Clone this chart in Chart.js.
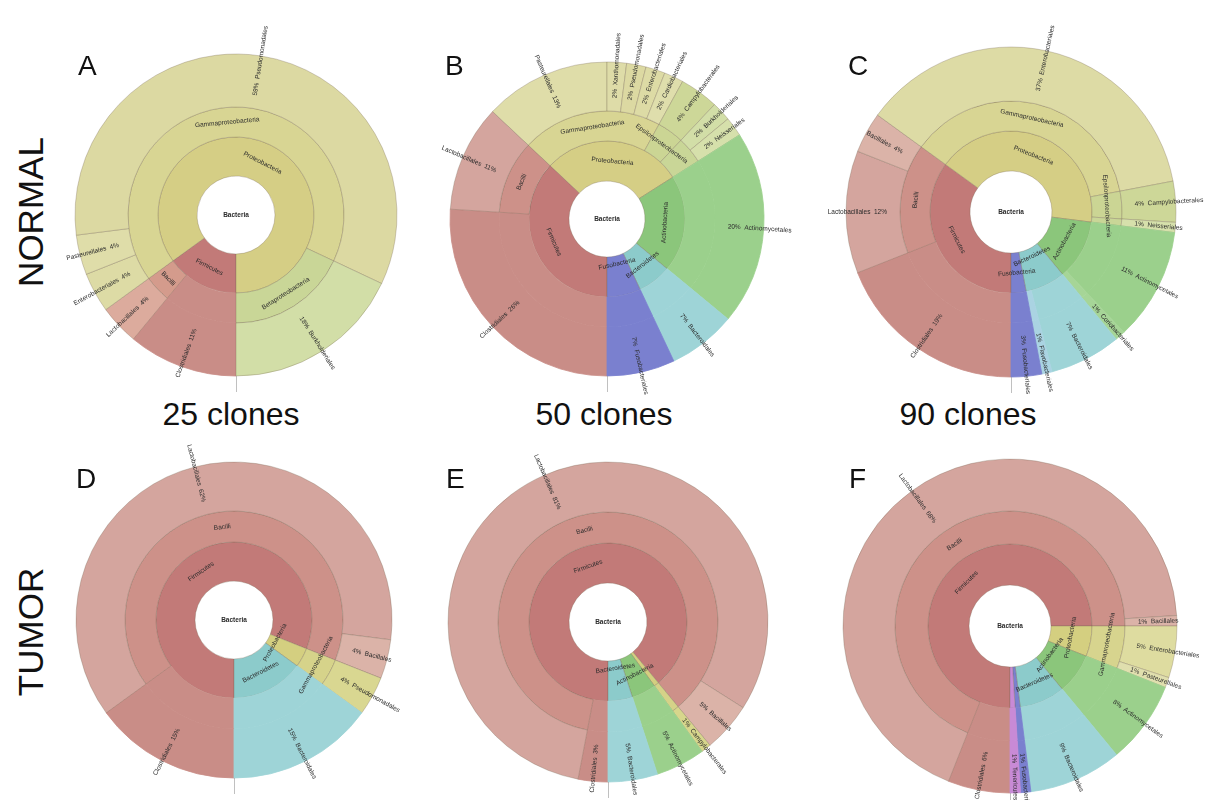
<!DOCTYPE html>
<html>
<head>
<meta charset="utf-8">
<title>Krona charts – normal vs tumor</title>
<script src="https://cdn.jsdelivr.net/npm/chart.js@4.4.0/dist/chart.umd.min.js"></script>
<style>
  html, body { margin: 0; padding: 0; background: #fff; }
  #stage { position: relative; width: 1209px; height: 800px; overflow: hidden;
           font-family: "Liberation Sans", Arial, Helvetica, sans-serif; color: #111; }
  #stage canvas { position: absolute; }
  .letter { position: absolute; font-size: 28px; line-height: 1; }
  .row { position: absolute; font-size: 35px; line-height: 1; white-space: nowrap;
         transform: translate(-50%, -50%) rotate(-90deg); }
  .clones { position: absolute; font-size: 32px; line-height: 1; white-space: nowrap;
            transform: translateX(-50%); }
</style>
</head>
<body>
<div id="stage">
  <div class="row" style="left:30px;top:212px">NORMAL</div>
  <div class="row" style="left:30px;top:632px">TUMOR</div>
  <div class="clones" style="left:231px;top:398px">25 clones</div>
  <div class="clones" style="left:604px;top:398px">50 clones</div>
  <div class="clones" style="left:968px;top:398px">90 clones</div>
  <canvas id="krA" width="440" height="440"></canvas>
  <canvas id="krB" width="440" height="440"></canvas>
  <canvas id="krC" width="440" height="440"></canvas>
  <canvas id="krD" width="440" height="440"></canvas>
  <canvas id="krE" width="440" height="440"></canvas>
  <canvas id="krF" width="440" height="440"></canvas>
  <div class="letter" style="left:78px;top:52px">A</div>
  <div class="letter" style="left:445px;top:52px">B</div>
  <div class="letter" style="left:848px;top:52px">C</div>
  <div class="letter" style="left:76px;top:465px">D</div>
  <div class="letter" style="left:446px;top:465px">E</div>
  <div class="letter" style="left:849px;top:465px">F</div>
</div>
<script>
// ---- clone percentages per order, listed clockwise from 6 o'clock ----

// A: normal, 25 clones
const aOrder  = ['Clostridiales', 'Lactobacillales', 'Enterobacteriales', 'Pasteurellales', 'Pseudomonadales', 'Burkholderiales'];
const aPct    = [11, 4, 4, 4, 59, 18];
const aClass  = ['', 'Bacilli', 'Gammaproteobacteria', 'Gammaproteobacteria', 'Gammaproteobacteria', 'Betaproteobacteria'];
const aPhylum = ['Firmicutes', 'Firmicutes', 'Proteobacteria', 'Proteobacteria', 'Proteobacteria', 'Proteobacteria'];

// B: normal, 50 clones
const bOrder  = ['Clostridiales', 'Lactobacillales', 'Pasteurellales', 'Xanthomonadales', 'Pseudomonadales', 'Enterobacteriales',
                 'Cardiobacteriales', 'Campylobacterales', 'Burkholderiales', 'Neisseriales', 'Actinomycetales', 'Bacteroidales', 'Fusobacteriales'];
const bPct    = [26, 11, 13, 2, 2, 2, 2, 4, 2, 2, 20, 7, 7];
const bClass  = ['', 'Bacilli', 'Gammaproteobacteria', 'Gammaproteobacteria', 'Gammaproteobacteria', 'Gammaproteobacteria',
                 'Gammaproteobacteria', 'Epsilonproteobacteria', 'Betaproteobacteria', 'Betaproteobacteria', '', '', ''];
const bPhylum = ['Firmicutes', 'Firmicutes', 'Proteobacteria', 'Proteobacteria', 'Proteobacteria', 'Proteobacteria',
                 'Proteobacteria', 'Proteobacteria', 'Proteobacteria', 'Proteobacteria', 'Actinobacteria', 'Bacteroidetes', 'Fusobacteria'];

// C: normal, 90 clones
const cOrder  = ['Clostridiales', 'Lactobacillales', 'Bacillales', 'Enterobacteriales', 'Campylobacterales', 'Neisseriales',
                 'Actinomycetales', 'Coriobacteriales', 'Bacteroidales', 'Flavobacteriales', 'Fusobacteriales'];
const cPct    = [19, 12, 4, 37, 4, 1, 11, 1, 7, 1, 3];
const cClass  = ['', 'Bacilli', 'Bacilli', 'Gammaproteobacteria', 'Epsilonproteobacteria', 'Betaproteobacteria', '', '', '', '', ''];
const cPhylum = ['Firmicutes', 'Firmicutes', 'Firmicutes', 'Proteobacteria', 'Proteobacteria', 'Proteobacteria',
                 'Actinobacteria', 'Actinobacteria', 'Bacteroidetes', 'Bacteroidetes', 'Fusobacteria'];

// D: tumor, 25 clones
const dOrder  = ['Clostridiales', 'Lactobacillales', 'Bacillales', 'Pseudomonadales', 'Bacteroidales'];
const dPct    = [15, 62, 4, 4, 15];
const dClass  = ['', 'Bacilli', 'Bacilli', 'Gammaproteobacteria', ''];
const dPhylum = ['Firmicutes', 'Firmicutes', 'Firmicutes', 'Proteobacteria', 'Bacteroidetes'];

// E: tumor, 50 clones
const eOrder  = ['Clostridiales', 'Lactobacillales', 'Bacillales', 'Campylobacterales', 'Actinomycetales', 'Bacteroidales'];
const ePct    = [3, 81, 5, 1, 5, 5];
const eClass  = ['', 'Bacilli', 'Bacilli', 'Epsilonproteobacteria', '', ''];
const ePhylum = ['Firmicutes', 'Firmicutes', 'Firmicutes', 'Proteobacteria', 'Actinobacteria', 'Bacteroidetes'];

// F: tumor, 90 clones
const fOrder  = ['Clostridiales', 'Lactobacillales', 'Bacillales', 'Enterobacteriales', 'Pasteurellales',
                 'Actinomycetales', 'Bacteroidales', 'Fusobacteriales', 'Tenericutes'];
const fPct    = [6, 68, 1, 5, 1, 8, 9, 1, 1];
const fClass  = ['', 'Bacilli', 'Bacilli', 'Gammaproteobacteria', 'Gammaproteobacteria', '', '', '', ''];
const fPhylum = ['Firmicutes', 'Firmicutes', 'Firmicutes', 'Proteobacteria', 'Proteobacteria',
                 'Actinobacteria', 'Bacteroidetes', 'Fusobacteria', 'Tenericutes'];

// ---- colours per taxon ----
const palette = {
  Firmicutes: '#c27a78', Bacilli: '#cd9189', Lactobacillales: '#d4a59e', Bacillales: '#dbb3a8', Clostridiales: '#c98d87',
  Proteobacteria: '#d5ce85', Gammaproteobacteria: '#d8d593', Pseudomonadales: '#dcd9a2', Enterobacteriales: '#dddba5',
  Pasteurellales: '#dfdda9', Xanthomonadales: '#dedca8', Cardiobacteriales: '#dfdeac',
  Epsilonproteobacteria: '#cbd594', Campylobacterales: '#cdd798',
  Betaproteobacteria: '#c9d697', Burkholderiales: '#d2dea7', Neisseriales: '#d6e0ab',
  Actinobacteria: '#8bc67b', Actinomycetales: '#9bd08c', Coriobacteriales: '#a6d597',
  Bacteroidetes: '#8ccbcb', Bacteroidales: '#9ed4d7', Flavobacteriales: '#aad3e2',
  Fusobacteria: '#7a80cf', Fusobacteriales: '#7a80cf',
  Tenericutes: '#c88ad6'
};
const tintA = { Lactobacillales: '#dcab9d', Bacilli: '#d49b8c' };
const tintD = { Pseudomonadales: '#d9d791', Gammaproteobacteria: '#d6d38a', Proteobacteria: '#d4cf80' };
const tintE = { Campylobacterales: '#d7d68c', Epsilonproteobacteria: '#d5d288', Proteobacteria: '#d4cf80' };
const tintF = { Enterobacteriales: '#dedca0', Pasteurellales: '#e0dfae', Gammaproteobacteria: '#d7d48e', Proteobacteria: '#d4cf80' };

// ---- geometry of each sunburst (centre, hole, ring edges) ----
const geometry = {
  krA: { cx: 236, cy: 215, hole: 39, phylumEdge: 78, classEdge: 108, outer: 161 },
  krB: { cx: 607, cy: 219, hole: 38, phylumEdge: 78, classEdge: 108, outer: 157 },
  krC: { cx: 1011, cy: 212, hole: 41, phylumEdge: 81, classEdge: 111, outer: 165 },
  krD: { cx: 234, cy: 620, hole: 39, phylumEdge: 78, classEdge: 109, outer: 158 },
  krE: { cx: 608, cy: 622, hole: 39, phylumEdge: 79, classEdge: 110, outer: 160 },
  krF: { cx: 1010, cy: 626, hole: 41, phylumEdge: 82, classEdge: 115, outer: 167 }
};

const panels = [
  { id: 'krA', order: aOrder, pct: aPct, cls: aClass, phylum: aPhylum, tint: tintA },
  { id: 'krB', order: bOrder, pct: bPct, cls: bClass, phylum: bPhylum, tint: {} },
  { id: 'krC', order: cOrder, pct: cPct, cls: cClass, phylum: cPhylum, tint: {} },
  { id: 'krD', order: dOrder, pct: dPct, cls: dClass, phylum: dPhylum, tint: tintD },
  { id: 'krE', order: eOrder, pct: ePct, cls: eClass, phylum: ePhylum, tint: tintE },
  { id: 'krF', order: fOrder, pct: fPct, cls: fClass, phylum: fPhylum, tint: tintF }
];

const EDGE = 'rgba(115,100,80,0.38)';
const FONT = '"Liberation Sans", Arial, Helvetica, sans-serif';
const INK = '#2b2b2b';
const MIN_RANK_LABEL = 2;   // smallest phylum/class share (%) that gets a name

// Group consecutive leaves that share a parent taxon into one ring segment.
// Leaves without a class rank keep their own colour through the class ring.
function groupRing(keys, pct, order, colour) {
  const names = [], data = [], bg = [], border = [];
  keys.forEach((k, i) => {
    if (!k) {
      const c = colour(order[i]);
      names.push(''); data.push(pct[i]); bg.push(c); border.push(c);
    } else if (i > 0 && keys[i - 1] === k) {
      data[data.length - 1] += pct[i];
    } else {
      names.push(k); data.push(pct[i]); bg.push(colour(k)); border.push(EDGE);
    }
  });
  return { names, data, bg, border };
}

function norm(a) { // to [-pi/2, 3pi/2)
  const t = Math.PI * 2;
  return (((a + Math.PI / 2) % t) + t) % t - Math.PI / 2;
}

function samplePts(x, y, ang, w) {
  const pts = [], dx = Math.cos(ang), dy = Math.sin(ang);
  for (let s = -w / 2; s <= w / 2; s += 2.5) pts.push([x + dx * s, y + dy * s]);
  return pts;
}
function collides(pts, placed) {
  for (const p of pts) for (const q of placed)
    if (Math.abs(p[0] - q[0]) < 4.5 && Math.abs(p[1] - q[1]) < 4.5) return true;
  return false;
}

// Krona-style labels: root name, tangential rank names, radial leaf names with percentages.
const kronaLabels = {
  id: 'kronaLabels',
  afterDatasetsDraw(chart) {
    const ctx = chart.ctx;
    const props = ['x', 'y', 'startAngle', 'endAngle', 'innerRadius', 'outerRadius'];
    const leafArcs = chart.getDatasetMeta(0).data;
    const ref = leafArcs[0].getProps(props, true);
    const cx = ref.x, cy = ref.y;
    ctx.save();
    ctx.fillStyle = INK;
    ctx.textBaseline = 'middle';

    // root
    ctx.font = 'bold 6.5px ' + FONT;
    ctx.textAlign = 'center';
    ctx.fillText('Bacteria', cx, cy);

    // short guide line under the root start
    ctx.strokeStyle = 'rgba(150,150,150,0.6)';
    ctx.lineWidth = 1;
    ctx.beginPath();
    ctx.moveTo(cx + 0.5, cy + ref.outerRadius);
    ctx.lineTo(cx + 0.5, cy + ref.outerRadius + 16);
    ctx.stroke();

    // phylum and class rings
    ctx.font = '6.5px ' + FONT;
    const items = [];
    [2, 1].forEach(di => {
      const ds = chart.data.datasets[di];
      chart.getDatasetMeta(di).data.forEach((arc, j) => {
        if (ds.names[j] && ds.data[j] >= MIN_RANK_LABEL) items.push({ arc, name: ds.names[j], value: ds.data[j] });
      });
    });
    items.sort((p, q) => q.value - p.value);
    const placed = [];
    items.forEach(it => {
      const g = it.arc.getProps(props, true);
      const a = norm((g.startAngle + g.endAngle) / 2);
      const w = ctx.measureText(it.name).width;
      const band = g.outerRadius - g.innerRadius;
      const rm = (g.innerRadius + g.outerRadius) / 2;
      const rot = (a > 0 && a < Math.PI) ? a - Math.PI / 2 : a + Math.PI / 2;
      for (const r of [rm, rm - band * 0.3, rm + band * 0.3]) {
        const px = cx + r * Math.cos(a), py = cy + r * Math.sin(a);
        const pts = samplePts(px, py, rot, w);
        if (collides(pts, placed)) continue;
        ctx.save();
        ctx.translate(px, py);
        ctx.rotate(rot);
        ctx.textAlign = 'center';
        ctx.fillText(it.name, 0, 0);
        ctx.restore();
        placed.push(...pts);
        break;
      }
    });

    // leaf ring: radial labels
    const leaf = chart.data.datasets[0];
    leafArcs.forEach((arc, j) => {
      const g = arc.getProps(props, true);
      const a = norm((g.startAngle + g.endAngle) / 2);
      const r0 = chart.$ringStart + 13;
      ctx.save();
      ctx.translate(cx, cy);
      if (a < Math.PI / 2) {
        ctx.rotate(a);
        ctx.textAlign = 'left';
        ctx.fillText(leaf.data[j] + '%  ' + leaf.names[j], r0, 0);
      } else {
        ctx.rotate(a - Math.PI);
        ctx.textAlign = 'right';
        ctx.fillText(leaf.names[j] + '  ' + leaf.data[j] + '%', -r0, 0);
      }
      ctx.restore();
    });
    ctx.restore();
  }
};

panels.forEach(p => {
  const geo = geometry[p.id];
  const canvas = document.getElementById(p.id);
  canvas.style.left = (geo.cx - canvas.width / 2) + 'px';
  canvas.style.top = (geo.cy - canvas.height / 2) + 'px';
  const colour = n => p.tint[n] || palette[n];

  const leafBg = p.order.map(colour);
  const leafBorder = p.cls.map((c, i) => c ? EDGE : leafBg[i]);
  const classRing = groupRing(p.cls, p.pct, p.order, colour);
  const phylumRing = groupRing(p.phylum, p.pct, p.order, colour);

  new Chart(canvas, {
    type: 'doughnut',
    data: {
      datasets: [
        { names: p.order, data: p.pct, backgroundColor: leafBg, borderColor: leafBorder,
          borderWidth: 0.8, weight: geo.outer - geo.classEdge },
        { names: classRing.names, data: classRing.data, backgroundColor: classRing.bg,
          borderColor: classRing.border, borderWidth: 0.8, weight: geo.classEdge - geo.phylumEdge },
        { names: phylumRing.names, data: phylumRing.data, backgroundColor: phylumRing.bg,
          borderColor: phylumRing.border, borderWidth: 0.8, weight: geo.phylumEdge - geo.hole }
      ]
    },
    options: {
      responsive: false,
      animation: false,
      events: [],
      rotation: 180,
      radius: geo.outer,
      cutout: (geo.hole / geo.outer * 100) + '%',
      layout: { padding: 0 },
      plugins: { legend: { display: false }, tooltip: { enabled: false } }
    },
    plugins: [{
      id: 'ringStart',
      beforeDatasetsDraw(c) { c.$ringStart = c.getDatasetMeta(0).data[0].innerRadius; }
    }, kronaLabels]
  });
});
</script>
</body>
</html>
